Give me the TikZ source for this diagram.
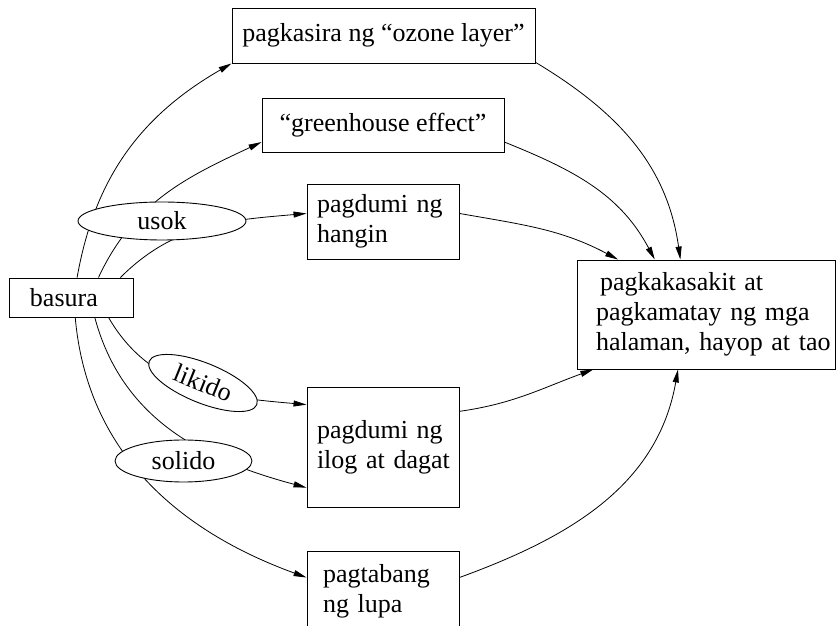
\documentclass[tikz,border=0pt]{standalone}
\usepackage{fontspec}
\setmainfont{Liberation Serif}
\usetikzlibrary{arrows.meta,shapes.geometric}
\begin{document}
\begin{tikzpicture}[x=1pt,y=1pt,
  font=\fontsize{26}{30}\selectfont,
  box/.style={draw, line width=0.9pt, inner sep=0pt, align=left},
  oval/.style={draw, ellipse, fill=white, line width=0.9pt, inner sep=0pt},
  link/.style={line width=0.8pt, -{Triangle[length=13pt,width=6pt]}},
]
\useasboundingbox (0,0) rectangle (836,626);
% boxes
\node[box, minimum width=124, minimum height=39, text width=82] (basura) at (71,328.5) {basura};
\node[box, minimum width=303, minimum height=55] (ozone) at (383.5,590.5) {pagkasira ng “ozone layer”};
\node[box, minimum width=242, minimum height=54] (greenhouse) at (383,501) {“greenhouse effect”};
\node[box, minimum width=152, minimum height=75, text width=132] (hangin) at (383,404.5) {\mbox{pagdumi ng}\\\mbox{hangin}};
\node[box, minimum width=152, minimum height=120, text width=132] (ilog) at (383,179) {\mbox{pagdumi ng}\\\mbox{ilog at dagat}};
\node[box, minimum width=152, minimum height=80, text width=120] (pagtabang) at (383,35) {\mbox{pagtabang}\\\mbox{ng lupa}};
\node[box, minimum width=258, minimum height=109, text width=220] (sick) at (706,311.5) {\hspace*{4pt}\mbox{pagkakasakit at}\\\mbox{pagkamatay ng mga}\\\mbox{halaman, hayop at tao}};
% connectors from basura
\draw[link] (basura.73) to[out=80,in=210] (ozone.south west);
\draw[link] (basura.36) to[out=65,in=205] (greenhouse.188);
\draw[link] (basura.22.5) to[out=45,in=185] (hangin.174);
\draw[link] (basura.-28) to[out=-60,in=175] (ilog.151);
\draw[link] (basura.-40) to[out=-75,in=165] (ilog.208);
\draw[link] (basura.-78) to[out=-85,in=160] (pagtabang.170);
% connectors to the result
\draw[link] (ozone.-10.8) to[out=-31,in=98] (sick.115);
\draw[link] (greenhouse.-8) to[out=-22,in=118] (sick.133);
\draw[link] (hangin.6) to[out=-10,in=152] (sick.148);
\draw[link] (ilog.25) to[out=8,in=200] (sick.206);
\draw[link] (pagtabang.10) to[out=20,in=-100] (sick.243);
% labels on the connectors
\node[oval, minimum width=168, minimum height=38] (usok) at (162,405) {usok};
\node[oval, minimum width=116, minimum height=40, rotate=-22] (likido) at (203,243) {likido};
\node[oval, minimum width=137, minimum height=42] (solido) at (183.5,165) {solido};
\end{tikzpicture}
\end{document}
